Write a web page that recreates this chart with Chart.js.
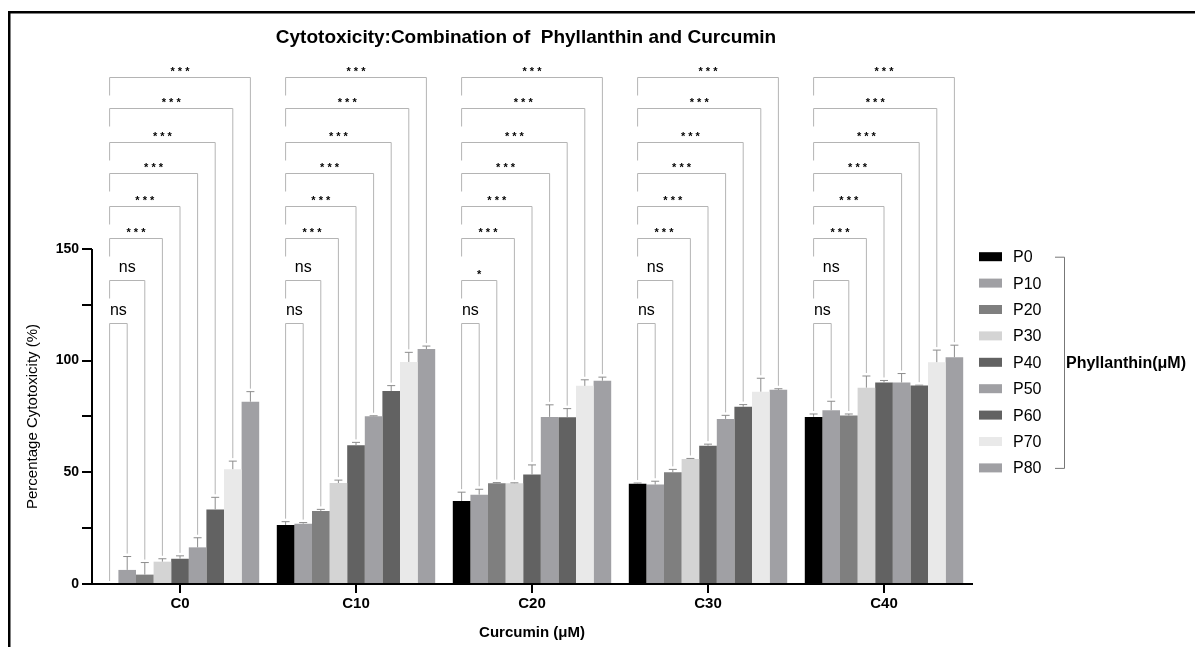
<!DOCTYPE html>
<html>
<head>
<meta charset="utf-8">
<script src="https://cdn.jsdelivr.net/npm/chart.js@4.4.1/dist/chart.umd.min.js"></script>
<style>
  html, body { margin: 0; padding: 0; background: #fff; }
  canvas { display: block; }
</style>
</head>
<body>
<canvas id="cytoChart" width="1195" height="647"></canvas>
<script>
// --- data ---
const categories = ['C0', 'C10', 'C20', 'C30', 'C40'];
const seriesNames = ['P0', 'P10', 'P20', 'P30', 'P40', 'P50', 'P60', 'P70', 'P80'];

const p0  = [0,    26.4, 37.2, 44.9, 74.8];
const p10 = [6.3,  27.0, 40.0, 44.5, 77.8];
const p20 = [4.2,  32.7, 45.1, 50.0, 75.4];
const p30 = [10.0, 45.2, 45.1, 56.0, 87.9];
const p40 = [11.3, 62.1, 49.0, 61.9, 90.2];
const p50 = [16.4, 75.1, 74.8, 73.9, 90.2];
const p60 = [33.4, 86.4, 74.6, 79.3, 88.8];
const p70 = [51.4, 99.4, 88.7, 86.1, 99.3];
const p80 = [81.6, 105.2, 91.0, 86.9, 101.5];

// upper error (SD) for each series
const p0Err  = [0,   1.5, 3.9, 0.3, 1.3];
const p10Err = [6.0, 0.5, 2.4, 1.5, 4.0];
const p20Err = [5.4, 0.7, 0.3, 1.3, 0.7];
const p30Err = [1.3, 1.3, 0.2, 0.2, 5.2];
const p40Err = [1.3, 1.3, 4.3, 0.7, 0.9];
const p50Err = [4.3, 0.2, 5.4, 1.6, 4.0];
const p60Err = [5.4, 2.4, 3.9, 1.0, 0.2];
const p70Err = [3.6, 4.3, 2.7, 6.0, 5.4];
const p80Err = [4.5, 1.3, 1.6, 0.5, 5.4];

const yTicks = [0, 25, 50, 75, 100, 125, 150];
const yMax = 235;

// significance brackets: P0 vs P10 ... P0 vs P80 (y level in axis units)
const bracketLevels = [117, 136, 155, 169, 184, 198, 213, 227];
const sigC0  = ['ns', 'ns', '***', '***', '***', '***', '***', '***'];
const sigC10 = ['ns', 'ns', '***', '***', '***', '***', '***', '***'];
const sigC20 = ['ns', '*',  '***', '***', '***', '***', '***', '***'];
const sigC30 = ['ns', 'ns', '***', '***', '***', '***', '***', '***'];
const sigC40 = ['ns', 'ns', '***', '***', '***', '***', '***', '***'];

const seriesValues = [p0, p10, p20, p30, p40, p50, p60, p70, p80];
const seriesErrors = [p0Err, p10Err, p20Err, p30Err, p40Err, p50Err, p60Err, p70Err, p80Err];
const sigLabels = [sigC0, sigC10, sigC20, sigC30, sigC40];
const seriesColors = ['#000000', '#a0a0a4', '#7f7f7f', '#d4d4d4', '#626262',
                      '#a0a0a4', '#626262', '#e9e9e9', '#a0a0a4'];

const FONT = "'Liberation Sans', Arial, sans-serif";
Chart.defaults.font.family = FONT;
Chart.defaults.color = '#000';

// error bars + significance brackets
const overlayPlugin = {
    id: 'overlay',
    afterDatasetsDraw(chart) {
        const ctx = chart.ctx;
        const y = chart.scales.y;
        ctx.save();

        // error bars
        ctx.strokeStyle = '#8c8c8c';
        ctx.lineWidth = 1;
        seriesValues.forEach((vals, s) => {
            const meta = chart.getDatasetMeta(s);
            meta.data.forEach((bar, i) => {
                if (vals[i] <= 0) return;
                const top = y.getPixelForValue(vals[i] + seriesErrors[s][i]);
                ctx.beginPath();
                ctx.moveTo(bar.x, bar.y);
                ctx.lineTo(bar.x, top);
                ctx.moveTo(bar.x - 4, top);
                ctx.lineTo(bar.x + 4, top);
                ctx.stroke();
            });
        });

        // brackets
        const m0 = chart.getDatasetMeta(0);
        categories.forEach((c, i) => {
            const x0 = m0.data[i].x;
            const base0 = y.getPixelForValue(p0[i] + p0Err[i]) - 3;
            for (let k = 1; k < seriesValues.length; k++) {
                const xk = chart.getDatasetMeta(k).data[i].x;
                const yl = Math.round(y.getPixelForValue(bracketLevels[k - 1])) + 0.5;
                const baseK = y.getPixelForValue(seriesValues[k][i] + seriesErrors[k][i]) - 3;
                ctx.strokeStyle = '#b4b4b4';
                ctx.lineWidth = 1;
                ctx.beginPath();
                ctx.moveTo(x0, k === 1 ? base0 : yl + 18);
                ctx.lineTo(x0, yl);
                ctx.lineTo(xk, yl);
                ctx.lineTo(xk, baseK);
                ctx.stroke();

                const txt = sigLabels[i][k - 1];
                const cx = (x0 + xk) / 2;
                ctx.fillStyle = '#000';
                ctx.textAlign = 'center';
                ctx.textBaseline = 'alphabetic';
                if (txt === 'ns') {
                    ctx.font = '16px ' + FONT;
                    ctx.fillText(txt, cx, yl - 9);
                } else {
                    ctx.font = 'bold 11px ' + FONT;
                    ctx.fillText(txt.split('').join(' '), cx, yl - 3);
                }
            }
        });
        ctx.restore();
    },
    afterDraw(chart) {
        const ctx = chart.ctx;
        const y = chart.scales.y;
        const area = chart.chartArea;
        ctx.save();
        // outer frame (top + left)
        ctx.fillStyle = '#000';
        ctx.fillRect(8, 11, 1187, 2.5);
        ctx.fillRect(8, 11, 2.5, 636);

        // y axis line 0..150
        const yTop = y.getPixelForValue(yTicks[yTicks.length - 1]);
        const yBot = y.getPixelForValue(0);
        ctx.strokeStyle = '#000';
        ctx.lineWidth = 2;
        ctx.beginPath();
        ctx.moveTo(area.left, yBot + 1);
        ctx.lineTo(area.left, yTop);
        ctx.stroke();

        // y axis title, centred on the 0..150 span
        ctx.save();
        ctx.translate(33, (yTop + yBot) / 2);
        ctx.rotate(-Math.PI / 2);
        ctx.font = '15px ' + FONT;
        ctx.fillStyle = '#000';
        ctx.textAlign = 'center';
        ctx.textBaseline = 'middle';
        ctx.fillText('Percentage Cytotoxicity (%)', 0, 0);
        ctx.restore();

        // title
        ctx.fillStyle = '#000';
        ctx.font = 'bold 19px ' + FONT;
        ctx.textAlign = 'center';
        ctx.textBaseline = 'middle';
        ctx.fillText('Cytotoxicity:Combination of  Phyllanthin and Curcumin', 526, 38);

        // legend
        const lx = 979, ly = 256.7, step = 26.4;
        ctx.textAlign = 'left';
        ctx.font = '16px ' + FONT;
        seriesNames.forEach((name, s) => {
            const yy = ly + s * step;
            ctx.fillStyle = seriesColors[s];
            ctx.fillRect(lx, yy - 4.5, 23, 9);
            ctx.fillStyle = '#000';
            ctx.fillText(name, lx + 34, yy + 1);
        });
        const lastY = ly + (seriesNames.length - 1) * step;
        ctx.strokeStyle = '#777';
        ctx.lineWidth = 1;
        ctx.beginPath();
        ctx.moveTo(1055, ly + 0.5);
        ctx.lineTo(1064.5, ly + 0.5);
        ctx.lineTo(1064.5, lastY + 0.5);
        ctx.lineTo(1055, lastY + 0.5);
        ctx.stroke();
        ctx.font = 'bold 16px ' + FONT;
        ctx.fillText('Phyllanthin(\u03bcM)', 1066, (ly + lastY) / 2 + 1);
        ctx.restore();
    }
};

const ctx = document.getElementById('cytoChart').getContext('2d');
new Chart(ctx, {
    type: 'bar',
    data: {
        labels: categories,
        datasets: seriesNames.map((name, s) => ({
            label: name,
            data: seriesValues[s],
            backgroundColor: seriesColors[s],
            borderWidth: 0,
            categoryPercentage: 0.9,
            barPercentage: 1.0
        }))
    },
    options: {
        responsive: false,
        animation: false,
        devicePixelRatio: 1,
        layout: { padding: { left: 0, right: 223, top: 59, bottom: 0 } },
        plugins: {
            legend: { display: false },
            tooltip: { enabled: false }
        },
        scales: {
            x: {
                afterFit: (scale) => { scale.height = 63; },
                grid: {
                    display: true,
                    drawOnChartArea: false,
                    drawTicks: true,
                    tickLength: 9,
                    offset: false,
                    color: '#000',
                    lineWidth: 2
                },
                border: { display: true, color: '#000', width: 2 },
                ticks: { font: { size: 15, weight: 'bold' }, padding: 2, color: '#000' },
                title: {
                    display: true,
                    text: 'Curcumin (\u03bcM)',
                    font: { size: 15, weight: 'bold' },
                    color: '#000',
                    padding: { top: 0, bottom: 5 }
                }
            },
            y: {
                min: 0,
                max: yMax,
                afterFit: (scale) => { scale.width = 92; },
                afterBuildTicks: (scale) => { scale.ticks = yTicks.map(v => ({ value: v })); },
                grid: {
                    display: true,
                    drawOnChartArea: false,
                    drawTicks: true,
                    tickLength: 10,
                    color: '#000',
                    lineWidth: 2
                },
                border: { display: false },
                ticks: {
                    font: { size: 14, weight: 'bold' },
                    padding: 3,
                    color: '#000',
                    callback: (v) => (v % 50 === 0 ? v : '')
                },
                title: { display: false }
            }
        }
    },
    plugins: [overlayPlugin]
});
</script>
</body>
</html>
